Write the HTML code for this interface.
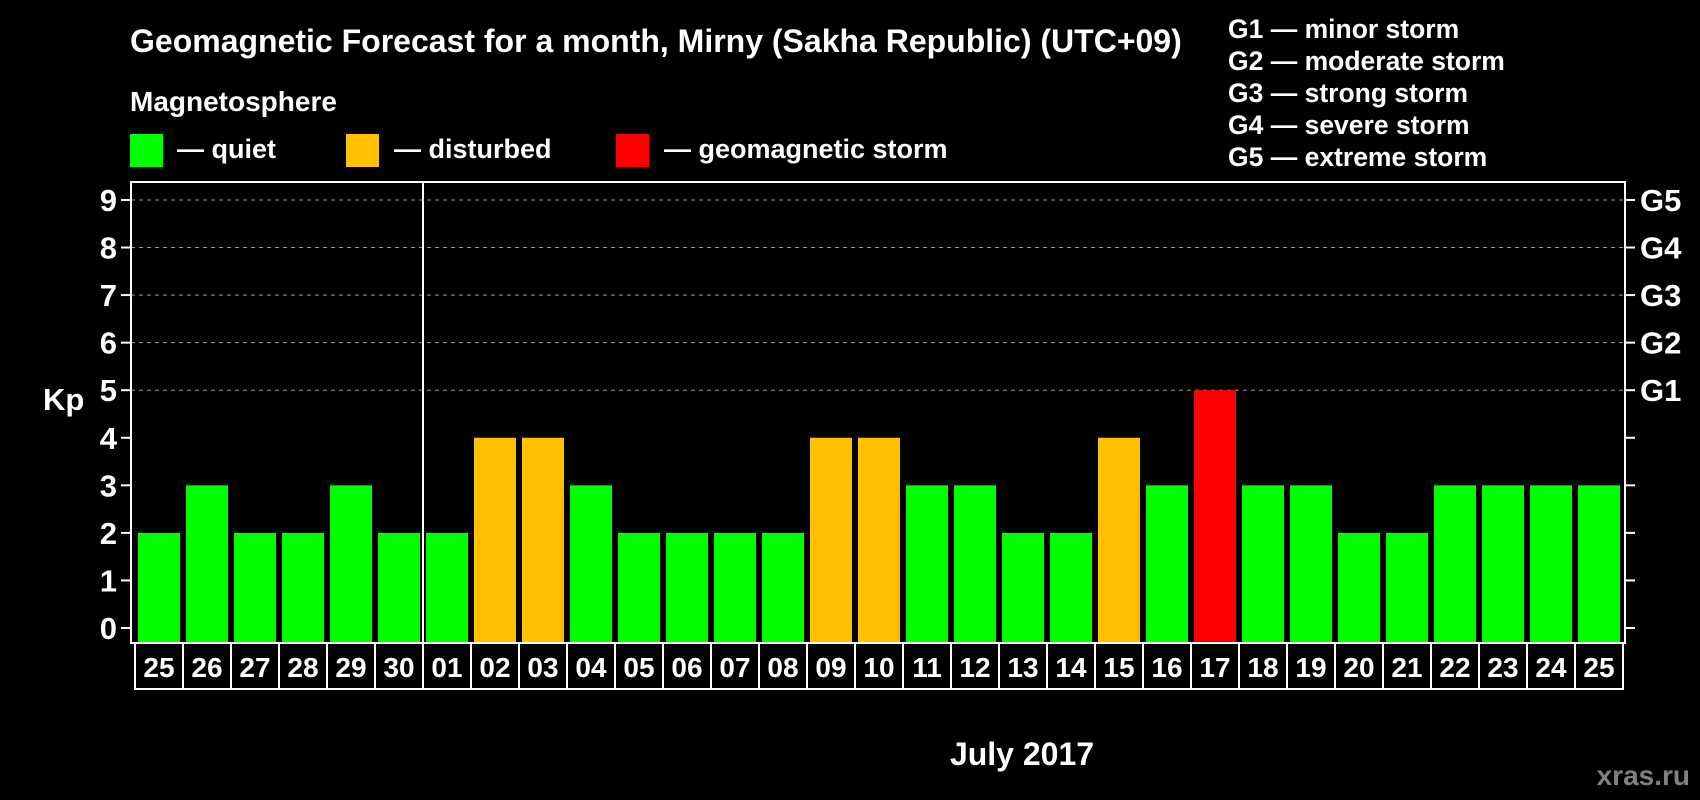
<!DOCTYPE html>
<html><head><meta charset="utf-8"><style>
body{margin:0;background:#000;}
svg{display:block;font-family:"Liberation Sans",Arial,sans-serif;font-weight:bold;}
</style></head><body>
<svg id="c" width="1700" height="800" viewBox="0 0 1700 800">
<rect width="1700" height="800" fill="#000"/>
<text x="130" y="52" fill="#fff" font-size="32">Geomagnetic Forecast for a month, Mirny (Sakha Republic) (UTC+09)</text>
<text x="130" y="111" fill="#fff" font-size="28">Magnetosphere</text>
<rect x="130" y="134" width="33" height="33" fill="#00ff00"/>
<text x="177" y="158" fill="#fff" font-size="27">— quiet</text>
<rect x="346" y="134" width="33" height="33" fill="#ffc000"/>
<text x="394" y="158" fill="#fff" font-size="27">— disturbed</text>
<rect x="616" y="134" width="33" height="33" fill="#ff0000"/>
<text x="664" y="158" fill="#fff" font-size="27">— geomagnetic storm</text>
<g fill="#fff" font-size="26.5">
<text x="1228" y="38">G1 — minor storm</text>
<text x="1228" y="70">G2 — moderate storm</text>
<text x="1228" y="102">G3 — strong storm</text>
<text x="1228" y="134">G4 — severe storm</text>
<text x="1228" y="166">G5 — extreme storm</text>
</g>
<text x="43" y="410" fill="#fff" font-size="31">Kp</text>
<text x="1022" y="765" fill="#fff" font-size="32" text-anchor="middle">July 2017</text>
<text x="1690" y="785" fill="#808080" font-size="28" text-anchor="end">xras.ru</text>
<g id="plot"></g>
</svg>
<script>
const days=["25","26","27","28","29","30","01","02","03","04","05","06","07","08","09","10","11","12","13","14","15","16","17","18","19","20","21","22","23","24","25"];
const kp=[2,3,2,2,3,2,2,4,4,3,2,2,2,2,4,4,3,3,2,2,4,3,5,3,3,2,2,3,3,3,3];
const yTicks=[0,1,2,3,4,5,6,7,8,9];
const gLabels=["G1","G2","G3","G4","G5"];
const NS="http://www.w3.org/2000/svg";
const g=document.getElementById('plot');
const L=131,R=1625,T=182,B=643,x0=138,pitch=48,bw=42;
const y=v=>628-v*47.56;
const x=i=>x0+i*pitch;
function mk(t,a){const e=document.createElementNS(NS,t);for(const k in a)e.setAttribute(k,a[k]);g.appendChild(e);return e;}
yTicks.forEach(v=>{
 if(v>=5){const l=mk('line',{x1:L,x2:R,y1:y(v),y2:y(v),stroke:'#999','stroke-dasharray':'4 4','stroke-width':1});
 
 }
 mk('line',{x1:L-10,x2:L,y1:y(v),y2:y(v),stroke:'#fff','stroke-width':2});
 mk('line',{x1:R,x2:R+10,y1:y(v),y2:y(v),stroke:'#fff','stroke-width':2});
 const t=mk('text',{x:L-14,y:y(v)+11,fill:'#fff','font-size':31,'text-anchor':'end'});t.textContent=v;
 
 
});
gLabels.forEach((s,i)=>{const t=mk('text',{x:1640,y:y(5+i)+11,fill:'#fff','font-size':31});t.textContent=s;
 
 });
kp.forEach((v,i)=>{
 const c=v>=5?'#ff0000':v>=4?'#ffc000':'#00ff00';
 const b=mk('rect',{x:x(i),y:y(v),width:bw,height:B-1-y(v),fill:c});
 
 
 mk('rect',{x:x(i)-3,y:B,width:pitch,height:46,fill:'none',stroke:'#fff','stroke-width':2});
 const t=mk('text',{x:x(i)+bw/2,y:B+34,fill:'#fff','font-size':28,'text-anchor':'middle'});t.textContent=days[i];
 
 
});
mk('line',{x1:x(6)-3,x2:x(6)-3,y1:T,y2:B,stroke:'#fff','stroke-width':2});
const f=mk('rect',{x:L,y:T,width:R-L,height:B-T,fill:'none',stroke:'#fff','stroke-width':2});


</script>
</body></html>
